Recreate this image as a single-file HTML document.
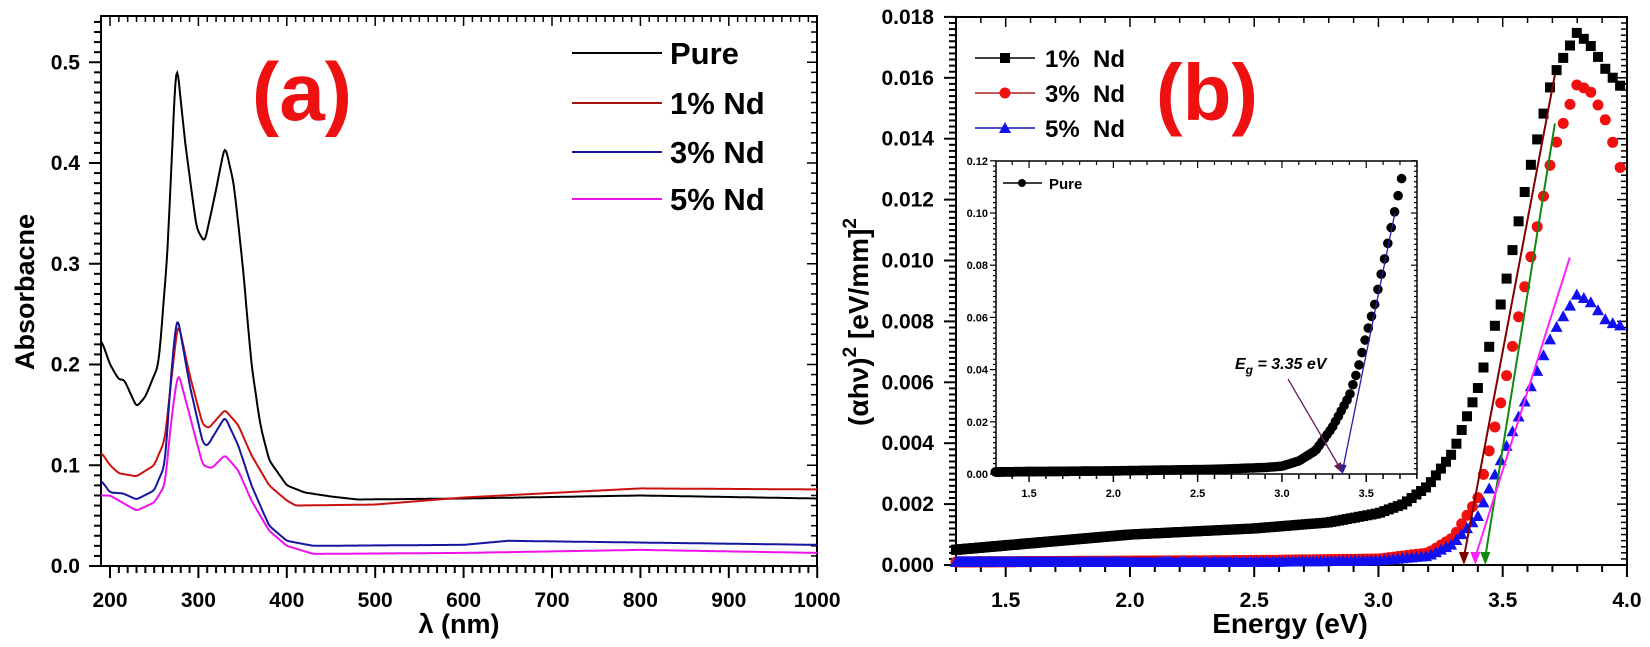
<!DOCTYPE html>
<html><head><meta charset="utf-8"><style>
html,body{margin:0;padding:0;background:#fff;}
svg{display:block;font-family:"Liberation Sans",Arial,sans-serif;}
</style></head><body>
<svg id="s" width="1650" height="647" viewBox="0 0 1650 647" xmlns="http://www.w3.org/2000/svg"></svg>
<script>
const S=document.getElementById('s');let h='';
function lin(pts,x){if(x<=pts[0][0])return pts[0][1];for(let i=1;i<pts.length;i++){if(x<=pts[i][0]){const a=pts[i-1],b=pts[i];const t=(x-a[0])/(b[0]-a[0]);return a[1]+(b[1]-a[1])*t;}}return pts[pts.length-1][1];}
function smooth(arr,w){const o=[];for(let i=0;i<arr.length;i++){let s=0,n=0;for(let k=-w;k<=w;k++){const j=i+k;if(j>=0&&j<arr.length){const wt=w+1-Math.abs(k);s+=arr[j]*wt;n+=wt;}}o.push(s/n);}return o;}
const ax=l=>110+(l-200)*0.884, ay=v=>566-v*1007.5;
const L=101,R=817,T=16,B=566;
h+=`<rect x="${L}" y="${T}" width="${R-L}" height="${B-T}" fill="none" stroke="#000" stroke-width="2"/>`;
for(let l=200;l<=1000;l+=10){const x=ax(l);const M=l%100==0;h+=`<line x1="${x}" y1="${B}" x2="${x}" y2="${B+(M?12:7)}" stroke="#000" stroke-width="2"/><line x1="${x}" y1="${T}" x2="${x}" y2="${T+(M?10:6)}" stroke="#000" stroke-width="1.5"/>`;if(M)h+=`<text x="${x}" y="607" font-size="21" font-weight="bold" text-anchor="middle">${l}</text>`;}
for(let i=0;i<=54;i++){const v=i/100;const y=ay(v);const M=i%10==0;h+=`<line x1="${L}" y1="${y}" x2="${L-(M?12:7)}" y2="${y}" stroke="#000" stroke-width="2"/><line x1="${R}" y1="${y}" x2="${R-(M?10:6)}" y2="${y}" stroke="#000" stroke-width="1.5"/>`;if(M)h+=`<text x="80" y="${y+7}" font-size="21" font-weight="bold" text-anchor="end">${v.toFixed(1)}</text>`;}
h+=`<text transform="translate(34,292) rotate(-90)" font-size="27" font-weight="bold" text-anchor="middle">Absorbacne</text>`;
h+=`<text x="459" y="633" font-size="27" font-weight="bold" text-anchor="middle">λ (nm)</text>`;
h+=`<text x="302" y="120" font-size="82" font-weight="bold" fill="#ee1111" text-anchor="middle">(a)</text>`;
const sa={
'#000':[[190,.225],[200,.2],[210,.185],[216,.185],[230,.158],[240,.168],[255,.2],[265,.31],[275,.505],[285,.42],[298,.335],[307,.321],[318,.365],[330,.418],[340,.38],[350,.3],[360,.2],[370,.14],[380,.105],[400,.08],[420,.073],[450,.069],[480,.066],[600,.067],[800,.07],[1000,.067]],
'#cc1111':[[190,.113],[200,.1],[210,.092],[230,.089],[250,.1],[262,.125],[270,.19],[277,.243],[290,.19],[305,.14],[312,.137],[330,.155],[345,.14],[360,.11],[380,.08],[400,.065],[410,.06],[500,.061],[600,.068],[800,.077],[1000,.076]],
'#1515a0':[[190,.085],[200,.073],[215,.072],[230,.066],[250,.075],[262,.1],[270,.2],[276,.25],[290,.18],[305,.122],[310,.119],[330,.148],[345,.12],[360,.08],[380,.04],[400,.025],[430,.02],[600,.021],[650,.025],[1000,.021]],
'#ee11ee':[[190,.07],[200,.07],[230,.055],[250,.063],[262,.08],[270,.15],[277,.193],[290,.15],[305,.1],[315,.097],[330,.11],[345,.095],[360,.065],[380,.035],[400,.02],[430,.012],[600,.013],[800,.016],[1000,.013]]};
for(const c in sa){const xs=[],vs=[];for(let l=190;l<=1000;l+=1){xs.push(l);vs.push(lin(sa[c],l));}const sv=smooth(vs,3);let d='';for(let i=0;i<xs.length;i++){d+=(i==0?'M':'L')+ax(xs[i]).toFixed(1)+','+ay(sv[i]).toFixed(1);}h+=`<path d="${d}" fill="none" stroke="${c}" stroke-width="2"/>`;}
const lg=[['Pure','#000',53],['1% Nd','#aa1111',103],['3% Nd','#1515a0',152],['5% Nd','#ee11ee',199]];
for(const[t,c,y]of lg){h+=`<line x1="572" y1="${y}" x2="662" y2="${y}" stroke="${c}" stroke-width="2"/><text x="670" y="${y+11}" font-size="31" font-weight="bold">${t}</text>`;}
const bx=E=>956+(E-1.3)*248.5, by=v=>565-v*30450;
const L2=956,R2=1627,T2=17,B2=565;
h+=`<rect x="${L2}" y="${T2}" width="${R2-L2}" height="${B2-T2}" fill="none" stroke="#000" stroke-width="2"/>`;
for(let i=13;i<=40;i++){const E=i/10;const x=bx(E);const M=i%5==0;h+=`<line x1="${x}" y1="${B2}" x2="${x}" y2="${B2+(M?12:7)}" stroke="#000" stroke-width="2"/><line x1="${x}" y1="${T2}" x2="${x}" y2="${T2+(M?10:6)}" stroke="#000" stroke-width="1.5"/>`;if(M)h+=`<text x="${x}" y="607" font-size="21" font-weight="bold" text-anchor="middle">${E.toFixed(1)}</text>`;}
for(let i=0;i<=90;i++){const v=i*0.0002;const y=by(v);const M=i%10==0;h+=`<line x1="${L2}" y1="${y}" x2="${L2-(M?12:7)}" y2="${y}" stroke="#000" stroke-width="2"/><line x1="${R2}" y1="${y}" x2="${R2-(M?10:6)}" y2="${y}" stroke="#000" stroke-width="1.5"/>`;if(M)h+=`<text x="934" y="${y+7}" font-size="21" font-weight="bold" text-anchor="end">${v.toFixed(3)}</text>`;}
h+=`<text transform="translate(868,322) rotate(-90)" font-size="28" font-weight="bold" text-anchor="middle">(αhν)<tspan dy="-12" font-size="19">2</tspan><tspan dy="12"> [eV/mm]</tspan><tspan dy="-12" font-size="19">2</tspan></text>`;
h+=`<text x="1290" y="633" font-size="28" font-weight="bold" text-anchor="middle">Energy (eV)</text>`;
h+=`<text x="1207" y="120" font-size="80" font-weight="bold" fill="#ee1111" text-anchor="middle">(b)</text>`;
const ix=E=>996+(E-1.304)*168.6, iy=v=>474-v*2610;
h+=`<rect x="996" y="161" width="421" height="313" fill="#fff" stroke="#000" stroke-width="1.5"/>`;
for(let i=0;i<=25;i++){const E=1.3+i*0.1;const x=ix(E);if(x<996||x>1417)continue;const M=Math.abs(E*2-Math.round(E*2))<1e-6;h+=`<line x1="${x}" y1="474" x2="${x}" y2="${474+(M?8:5)}" stroke="#000" stroke-width="1.5"/><line x1="${x}" y1="161" x2="${x}" y2="${161+(M?7:4)}" stroke="#000" stroke-width="1.2"/>`;if(M)h+=`<text x="${x}" y="497" font-size="11" font-weight="bold" text-anchor="middle">${E.toFixed(1)}</text>`;}
for(let i=0;i<=60;i++){const v=i*0.002;const y=iy(v);const M=i%10==0;h+=`<line x1="996" y1="${y}" x2="${996-(M?6:3)}" y2="${y}" stroke="#000" stroke-width="1.2"/><line x1="1417" y1="${y}" x2="${1417-(M?6:3)}" y2="${y}" stroke="#000" stroke-width="1.2"/>`;if(M)h+=`<text x="988" y="${y+4}" font-size="11" font-weight="bold" text-anchor="end">${v.toFixed(2)}</text>`;}
function Es(Emax,k){const a=[];let E=1.3;while(E<=Emax){a.push(E);E+=k*Math.pow(E/3.8,2);}return a;}
const pure=[[1.3,.0008],[2.0,.0012],[2.6,.0018],[2.9,.0025],[3.0,.003],[3.1,.005],[3.2,.009],[3.3,.018],[3.4,.03],[3.45,.04],[3.5,.053],[3.55,.065],[3.6,.08],[3.65,.095],[3.7,.11],[3.73,.12]];
for(const E of Es(3.73,0.022)){const x=ix(E),y=iy(lin(pure,E));h+=`<circle cx="${x.toFixed(1)}" cy="${y.toFixed(1)}" r="4.8" fill="#000"/>`;}
h+=`<line x1="${ix(3.67)}" y1="${iy(0.1)}" x2="${ix(3.36)}" y2="470" stroke="#2020a0" stroke-width="1.3"/><polygon points="${ix(3.36)},474 ${ix(3.36)-4},464 ${ix(3.36)+4},465" fill="#2020a0"/>`;
h+=`<line x1="1288" y1="379" x2="1340" y2="468" stroke="#6a1a5a" stroke-width="1.3"/><polygon points="1342,473 1334,466 1341,462" fill="#6a1a5a"/>`;
h+=`<text x="1235" y="369" font-size="16" font-weight="bold" font-style="italic">E<tspan dy="5" font-size="12">g</tspan><tspan dy="-5"> = 3.35 eV</tspan></text>`;
h+=`<line x1="1003" y1="183" x2="1042" y2="183" stroke="#000" stroke-width="1.5"/><circle cx="1022" cy="183" r="4" fill="#000"/><text x="1049" y="189" font-size="15" font-weight="bold">Pure</text>`;
const s1=[[1.3,.0005],[2.0,.001],[2.5,.0012],[2.8,.0014],[3.0,.0017],[3.1,.002],[3.2,.0026],[3.3,.0037],[3.4,.0058],[3.5,.0088],[3.6,.0127],[3.7,.016],[3.8,.0175],[3.86,.017],[3.92,.0162],[4.0,.0155]];
const s3=[[1.3,.0001],[2.5,.00015],[3.0,.0002],[3.2,.0004],[3.3,.0009],[3.4,.0022],[3.5,.0056],[3.6,.0096],[3.7,.0135],[3.8,.0158],[3.86,.0155],[3.92,.0145],[4.0,.0123]];
const s5=[[1.3,.0001],[2.5,.0001],[3.0,.00015],[3.2,.0003],[3.3,.0007],[3.4,.0016],[3.5,.0036],[3.6,.0056],[3.7,.0076],[3.8,.0089],[3.86,.0086],[3.92,.008],[4.0,.0078]];
const K=0.028;
for(const E of Es(4.0,K)){const x=bx(E),y=by(lin(s1,E));h+=`<rect x="${(x-5).toFixed(1)}" y="${(y-5).toFixed(1)}" width="10" height="10" fill="#000"/>`;}
for(const E of Es(4.0,K)){const x=bx(E),y=by(lin(s3,E));h+=`<circle cx="${x.toFixed(1)}" cy="${y.toFixed(1)}" r="5.5" fill="#f01010"/>`;}
for(const E of Es(4.0,K)){const x=bx(E),y=by(lin(s5,E));h+=`<polygon points="${x.toFixed(1)},${(y-6).toFixed(1)} ${(x-6).toFixed(1)},${(y+5).toFixed(1)} ${(x+6).toFixed(1)},${(y+5).toFixed(1)}" fill="#1010f0"/>`;}
function fit(E0,E1,v1,c){const x0=bx(E0),x1=bx(E1),y1=by(v1);h+=`<line x1="${x1}" y1="${y1}" x2="${x0}" y2="${B2-8}" stroke="${c}" stroke-width="2"/><polygon points="${x0},${B2} ${x0-5},${B2-13} ${x0+5},${B2-13}" fill="${c}"/>`;}
fit(3.344,3.71,0.0161,'#800000');fit(3.43,3.71,0.0145,'#118811');fit(3.39,3.77,0.0101,'#ff22ff');
const lb=[['1% Nd','#000',58,'sq'],['3% Nd','#aa2222',93,'ci'],['5% Nd','#1010c0',128,'tr']];
for(const[t,c,y,m]of lb){h+=`<line x1="975" y1="${y}" x2="1035" y2="${y}" stroke="${c}" stroke-width="1.5"/>`;
if(m=='sq')h+=`<rect x="1000" y="${y-5}" width="10" height="10" fill="#000"/>`;else if(m=='ci')h+=`<circle cx="1005" cy="${y}" r="5.5" fill="#f01010"/>`;else h+=`<polygon points="1005,${y-6} 999,${y+5} 1011,${y+5}" fill="#1010f0"/>`;
h+=`<text x="1045" y="${y+9}" font-size="24" font-weight="bold" xml:space="preserve">${t.replace(' ','  ')}</text>`;}
S.innerHTML=h;
</script>
</body></html>
